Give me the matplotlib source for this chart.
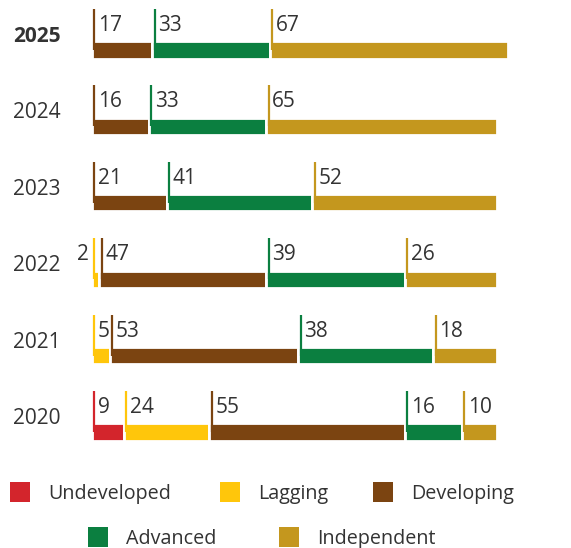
import matplotlib
matplotlib.use("Agg")
import matplotlib.pyplot as plt
from matplotlib.patches import Rectangle
from matplotlib.transforms import ScaledTranslation

# Share of units by development level, per year (top row = latest year)
YEARS = ["2025", "2024", "2023", "2022", "2021", "2020"]
LEVELS = ["Undeveloped", "Lagging", "Developing", "Advanced", "Independent"]
UNDEVELOPED = [0, 0, 0, 0, 0, 9]
LAGGING = [0, 0, 0, 2, 5, 24]
DEVELOPING = [17, 16, 21, 47, 53, 55]
ADVANCED = [33, 33, 41, 39, 38, 16]
INDEPENDENT = [67, 65, 52, 26, 18, 10]

COLORS = ["#d3252c", "#ffc60b", "#7b4411", "#0b7f40", "#c4971e"]
TEXT = "#333333"
FONT = ["Open Sans", "DejaVu Sans"]

W, H, DPI = 571, 548, 100
X0, SCALE = 91.9, 3.557          # px where the bars start, px per unit
ROW0, ROW_STEP = 50, 76.4        # px centre of first row, row spacing
BAR_H = 17.3
FS = 15
LEGEND_FS = 14.2

plt.rcParams["font.family"] = FONT

fig = plt.figure(figsize=(W / DPI, H / DPI), dpi=DPI)

# bars live in value units on x, pixel rows on y
ax = fig.add_axes([0, 0, 1, 1])
ax.set_xlim(-X0 / SCALE, (W - X0) / SCALE)
ax.set_ylim(H, 0)
ax.axis("off")

# overlay in plain pixel space for year labels and the legend
lax = fig.add_axes([0, 0, 1, 1], facecolor="none")
lax.set_xlim(0, W)
lax.set_ylim(H, 0)
lax.axis("off")

rows = [ROW0 + ROW_STEP * i for i in range(len(YEARS))]
series = [UNDEVELOPED, LAGGING, DEVELOPING, ADVANCED, INDEPENDENT]


def px(dx):
    return ScaledTranslation(dx / DPI, 0, fig.dpi_scale_trans)


left = [0] * len(YEARS)
for vals, color in zip(series, COLORS):
    for i, v in enumerate(vals):
        if v <= 0:
            continue
        y = rows[i]
        ax.barh(y, v, left=left[i], height=BAR_H, color=color,
                edgecolor="white", linewidth=2.0, zorder=2)
        # marker stick rising from the segment start
        ax.vlines(left[i], y - 41, y, colors=color, linewidth=1.6,
                  transform=ax.transData + px(2.5), zorder=3)
        if v < 3:
            ax.text(left[i], y - 19, str(v), ha="right", va="baseline",
                    fontsize=FS, color=TEXT, transform=ax.transData + px(-3))
        else:
            ax.text(left[i], y - 19, str(v), ha="left", va="baseline",
                    fontsize=FS, color=TEXT, transform=ax.transData + px(6))
        left[i] += v

for i, (year, y) in enumerate(zip(YEARS, rows)):
    lax.text(13, y - 8, year, ha="left", va="baseline", fontsize=FS,
             color=TEXT, fontweight="bold" if i == 0 else "normal")

# legend: three items on the first line, two centred below
legend_pos = [(10, 499), (220, 499), (373, 499), (88, 544), (279, 544)]
for (lx, ly), name, color in zip(legend_pos, LEVELS, COLORS):
    lax.add_patch(Rectangle((lx, ly - 17), 20, 20, color=color, lw=0))
    lax.text(lx + 38, ly, name, ha="left", va="baseline", fontsize=LEGEND_FS,
             color=TEXT)

fig.savefig("out.png", dpi=DPI)
